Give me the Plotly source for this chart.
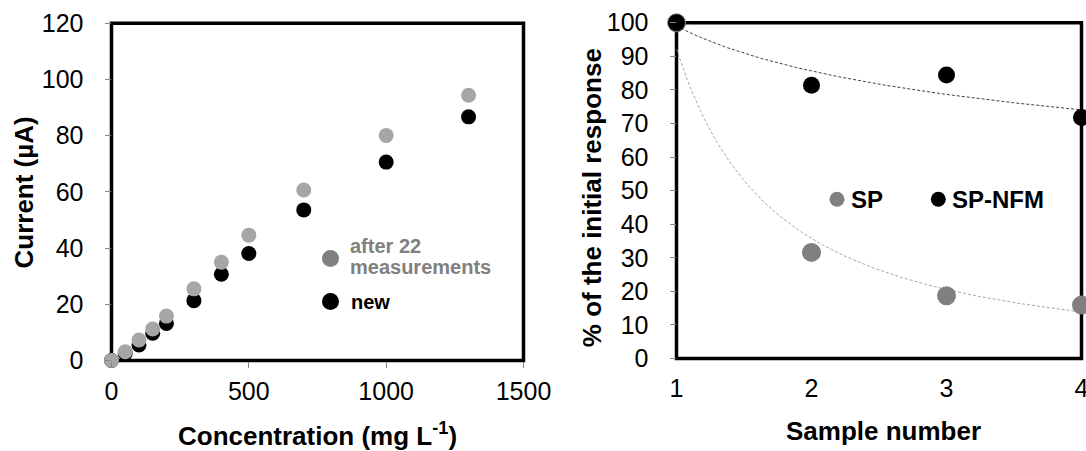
import numpy as np
import plotly.graph_objects as go

# ---------------- data ----------------
# Left panel: calibration
concentration = [0, 50, 100, 150, 200, 300, 400, 500, 700, 1000, 1300]
current_new = [0, 2.5, 5.5, 9.7, 13.2, 21.3, 30.7, 38.1, 53.6, 70.6, 86.7]
current_after22 = [0, 3.1, 7.3, 11.2, 15.8, 25.5, 35.0, 44.6, 60.7, 80.1, 94.4]
left_xticks = [0, 500, 1000, 1500]
left_yticks = [0, 20, 40, 60, 80, 100, 120]

# Right panel: repeatability
sample_number = [1, 2, 3, 4]
resp_sp = [100, 31.6, 18.7, 15.9]
resp_sp_nfm = [100, 81.4, 84.4, 71.8]
right_xticks = [1, 2, 3, 4]
right_yticks = [0, 10, 20, 30, 40, 50, 60, 70, 80, 90, 100]

# ---------------- layout helpers ----------------
W, H = 1086, 451
FONT = "Liberation Sans, Arial, sans-serif"


def px(x):
    return x / W


def py(y):
    return 1 - y / H


# power-law trendlines (least squares in log-log space, like Excel "power" trendline)
def power_fit(xs, ys):
    b, lna = np.polyfit(np.log(xs), np.log(ys), 1)
    xx = np.linspace(min(xs), max(xs), 120)
    return xx, np.exp(lna) * xx ** b


tx_sp, ty_sp = power_fit(sample_number, resp_sp)
tx_nfm, ty_nfm = power_fit(sample_number, resp_sp_nfm)

fig = go.Figure()

# left panel traces
fig.add_trace(go.Scatter(x=concentration, y=current_new, mode="markers",
                         marker=dict(size=15, color="#000000", opacity=1),
                         xaxis="x", yaxis="y", cliponaxis=False, showlegend=False))
fig.add_trace(go.Scatter(x=concentration, y=current_after22, mode="markers",
                         marker=dict(size=15, color="#a6a6a6", opacity=1),
                         xaxis="x", yaxis="y", cliponaxis=False, showlegend=False))

# right panel traces
fig.add_trace(go.Scatter(x=tx_sp, y=ty_sp, mode="lines",
                         line=dict(color="#a6a6a6", width=1, dash="3px,2px"),
                         xaxis="x2", yaxis="y2", showlegend=False))
fig.add_trace(go.Scatter(x=tx_nfm, y=ty_nfm, mode="lines",
                         line=dict(color="#404040", width=1, dash="3px,2px"),
                         xaxis="x2", yaxis="y2", showlegend=False))
fig.add_trace(go.Scatter(x=sample_number, y=resp_sp, mode="markers",
                         marker=dict(size=19, color="#808080", opacity=1),
                         xaxis="x2", yaxis="y2", cliponaxis=False, showlegend=False))
fig.add_trace(go.Scatter(x=sample_number, y=resp_sp_nfm, mode="markers",
                         marker=dict(size=17, color="#000000", opacity=1),
                         xaxis="x2", yaxis="y2", cliponaxis=False, showlegend=False))

# legend glyphs on a pixel overlay axis
legend_items = [
    # (x_px, y_px, size, color)
    (330.5, 258.5, 17, "#808080"),
    (330.5, 301.5, 17, "#000000"),
    (837.0, 199.3, 15, "#808080"),
    (938.3, 199.3, 15, "#000000"),
]
fig.add_trace(go.Scatter(x=[it[0] for it in legend_items], y=[it[1] for it in legend_items],
                         mode="markers",
                         marker=dict(size=[it[2] for it in legend_items],
                                     color=[it[3] for it in legend_items],
                                     opacity=1, line=dict(width=0)),
                         xaxis="x3", yaxis="y3", cliponaxis=False, showlegend=False,
                         hoverinfo="skip"))

tickfont = dict(family=FONT, size=25, color="#000000")
common_ax = dict(showgrid=False, zeroline=False, showline=False, tickfont=tickfont,
                 fixedrange=True, automargin=False, ticklabeloverflow="allow")

left_x = [111.5, 523.5]
left_y = [23.3, 360.5]
right_x = [676.5, 1081.5]
right_y = [22.7, 358.5]

fig.update_layout(
    template="none",
    width=W, height=H,
    margin=dict(l=0, r=0, t=0, b=0, pad=0),
    paper_bgcolor="white", plot_bgcolor="rgba(0,0,0,0)",
    font=dict(family=FONT, color="#000000"),
    xaxis=dict(domain=[px(left_x[0]), px(left_x[1])], range=[0, 1500],
               tickvals=left_xticks, ticks="outside", ticklen=6, tickcolor="#868686",
               tickwidth=1, ticklabelstandoff=2, anchor="y", **common_ax),
    yaxis=dict(domain=[py(left_y[1]), py(left_y[0])], range=[0, 120],
               tickvals=left_yticks, ticks="outside", ticklen=6, tickcolor="#868686",
               tickwidth=1, ticklabelstandoff=16, anchor="x", **common_ax),
    xaxis2=dict(domain=[px(right_x[0]), px(right_x[1])], range=[1, 4],
                tickvals=right_xticks, ticks="", ticklabelstandoff=12, anchor="y2",
                **common_ax),
    yaxis2=dict(domain=[py(right_y[1]), py(right_y[0])], range=[0, 100],
                tickvals=right_yticks, ticks="outside", ticklen=6, tickcolor="#868686",
                tickwidth=1, ticklabelstandoff=16, anchor="x2", **common_ax),
    xaxis3=dict(domain=[0, 1], range=[0, W], visible=False, anchor="y3",
                fixedrange=True, automargin=False),
    yaxis3=dict(domain=[0, 1], range=[H, 0], visible=False, anchor="x3",
                fixedrange=True, automargin=False),
)

# frames
for xr, yr in (("x domain", "y domain"), ("x2 domain", "y2 domain")):
    fig.add_shape(type="rect", xref=xr, yref=yr, x0=0, x1=1, y0=0, y1=1,
                  line=dict(color="#000000", width=3.5), layer="below")

title_font = dict(family=FONT, size=26, color="#000000")


def add_text(text, x, y, font, xanchor="center", textangle=0):
    fig.add_annotation(text=text, x=px(x), y=py(y), xref="paper", yref="paper",
                       xanchor=xanchor, yanchor="middle", showarrow=False,
                       font=font, textangle=textangle)


# axis titles
add_text("<b>Current (µA)</b>", 24, 192.5, title_font, textangle=-90)
add_text("<b>Concentration (mg L<sup>-1</sup>)</b>", 317.6, 434, title_font)
add_text("<b>% of the initial response</b>", 591.7, 197.5, title_font, textangle=-90)
add_text("<b>Sample number</b>", 883.5, 431, title_font)

# legend texts
leg_grey = dict(family=FONT, size=20, color="#808080")
leg_black = dict(family=FONT, size=20, color="#000000")
add_text("<b>after 22</b>", 347.5, 245.5, leg_grey, xanchor="left")
add_text("<b>measurements</b>", 347.5, 266.5, leg_grey, xanchor="left")
add_text("<b>new</b>", 348.5, 301.5, leg_black, xanchor="left")
leg_r = dict(family=FONT, size=24, color="#000000")
add_text("<b>SP</b>", 848.5, 199.3, leg_r, xanchor="left")
add_text("<b>SP-NFM</b>", 950.0, 199.3, leg_r, xanchor="left")

fig.write_html("out.html")
